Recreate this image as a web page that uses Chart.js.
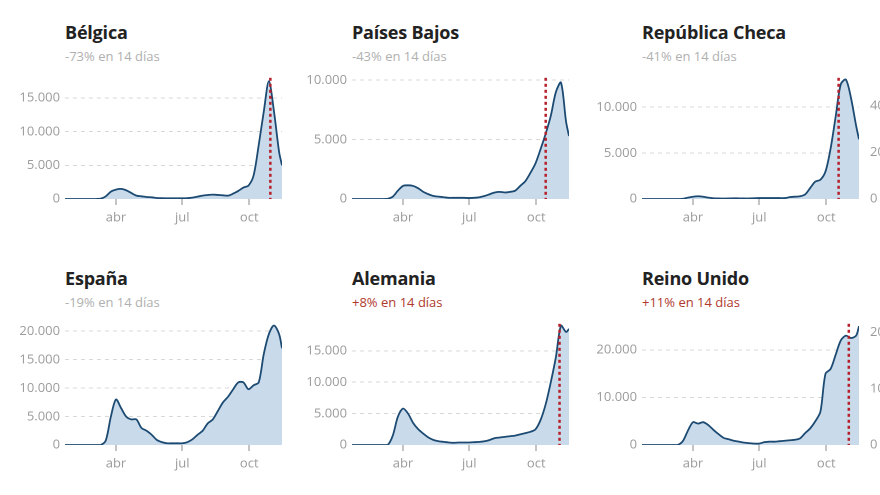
<!DOCTYPE html>
<html><head><meta charset="utf-8">
<script src="https://cdn.jsdelivr.net/npm/chart.js@4/dist/chart.umd.min.js"></script>
<style>
html,body{margin:0;padding:0;background:#fff;width:880px;height:495px;overflow:hidden;position:relative;font-family:"Open Sans",sans-serif}
.t{position:absolute;font-weight:700;font-size:18px;color:#222;white-space:nowrap;letter-spacing:-0.2px}
.s{position:absolute;font-size:13px;color:#b0b0b0;white-space:nowrap}
.s.up{color:#b03a2e}
canvas{position:absolute}
</style></head><body>
<script>
// Day offsets from 22 Jan 2020
const days = [0,7,14,21,28,35,42,49,56,63,70,77,84,91,98,105,112,119,126,133,140,147,154,161,168,175,182,189,196,203,210,217,224,231,238,245,252,259,266,273,280,287,294,298];
const tickDays = [70,161,253];
const tickLabels = ["abr","jul","oct"];
const countries = ["Bélgica","Países Bajos","República Checa","España","Alemania","Reino Unido"];
const changes = ["-73% en 14 días","-43% en 14 días","-41% en 14 días","-19% en 14 días","+8% en 14 días","+11% en 14 días"];
const belgica = [0,0,0,0,0,0,5,50,400,1100,1400,1500,1300,900,500,400,300,250,150,120,100,100,100,100,120,200,350,500,600,650,600,550,500,800,1200,1700,2000,3500,8000,13000,17500,13000,7000,5000];
const paisesBajos = [0,0,0,0,0,0,0,20,200,700,1100,1150,1100,900,600,400,250,200,150,100,100,100,100,80,100,150,250,400,550,600,550,600,700,1100,1500,2200,3000,4200,5500,7000,9000,9800,6500,5300];
const republicaCheca = [0,0,0,0,0,0,0,0,20,150,250,300,250,150,80,60,50,60,80,70,60,60,80,100,100,100,100,100,100,200,250,300,500,1200,1900,2100,3000,5500,9000,12500,13000,11000,8000,6500];
const espana = [0,0,0,0,0,0,0,0,800,5000,8000,6500,5000,4500,4500,3000,2500,1800,900,500,300,300,300,300,500,1000,1800,2500,3800,4500,6000,7500,8500,9800,11000,11000,9800,10500,11000,16000,19500,21000,19500,17000];
const alemania = [0,0,0,0,0,0,0,0,1500,4500,5800,5000,3500,2500,1800,1200,800,600,500,400,350,400,400,400,450,500,600,800,1100,1200,1300,1400,1500,1700,1900,2100,2500,4000,6500,10000,14000,19000,18000,18500];
const reinoUnido = [0,0,0,0,0,0,0,0,800,3000,4800,4500,4800,4200,3200,2300,1500,1200,900,700,500,400,300,300,600,700,700,800,900,1000,1100,1400,2500,3500,5000,7000,15000,16000,19000,22000,23000,22500,23000,25000];
const series = [belgica,paisesBajos,republicaCheca,espana,alemania,reinoUnido];
const yMax = [18000,10200,13200,21300,19300,25500];
const yStep = [5000,5000,5000,5000,5000,10000];
const markerDay = [282,266,270,null,285,284];
// Partial next-column axes cut off at right edge
const partialMax = [52000,21500];
const partialStep = [20000,10000];

const fmt = v => v.toLocaleString('de-DE');
const plotLefts = [65,352,642];
const axisW = 60, plotW = 217;

const markerPlugin = {
  id:'marker',
  afterDatasetsDraw(chart){
    const d = chart.options.plugins.marker.day;
    if(d==null) return;
    const x = chart.scales.x.getPixelForValue(d);
    const {top,bottom} = chart.chartArea;
    const c = chart.ctx; c.save();
    c.strokeStyle='#b5202a'; c.lineWidth=2.5; c.setLineDash([3,3]);
    c.beginPath(); c.moveTo(x,top); c.lineTo(x,bottom); c.stroke(); c.restore();
  }
};

function makeChart(left, top, data, max, step, marker, showX, partial){
  const cv = document.createElement('canvas');
  const w = partial ? 120 : axisW+plotW+3;
  cv.style.left = left+'px'; cv.style.top = top+'px';
  cv.style.width = w+'px'; cv.style.height='170px';
  document.body.appendChild(cv);
  new Chart(cv,{
    type:'line',
    data:{datasets:[{data: data ? days.map((d,i)=>({x:d,y:data[i]})) : [],
      borderColor:'#1c4a72', borderWidth:1.8, backgroundColor:'#c9dbea', fill:'origin', pointRadius:0, tension:0.3}]},
    options:{responsive:false, animation:false, devicePixelRatio:2,
      layout:{padding:{top:3,right:partial?0:3,left:0,bottom:0}},
      plugins:{legend:{display:false},tooltip:{enabled:false},marker:{day:marker}},
      scales:{
        x:{type:'linear', min:0, max:298, display:showX,
          afterBuildTicks(s){ s.ticks = tickDays.map(v=>({value:v})); },
          afterFit(s){ s.height = 36; },
          ticks:{callback:(v)=>tickLabels[tickDays.indexOf(v)], color:'#9a9a9a', font:{family:'Open Sans',size:13}, padding:5, maxRotation:0, autoSkip:false},
          grid:{drawOnChartArea:false, tickLength:6, color:'#888'}, border:{display:false}},
        y:{min:0, max:max,
          afterBuildTicks(s){ const t=[]; for(let v=0; v<=max; v+=step) t.push({value:v}); s.ticks=t; },
          afterFit(s){ s.width = axisW; },
          ticks:{callback:v=>fmt(v), color:'#9a9a9a', font:{family:'Open Sans',size:13}, padding:5, crossAlign: partial?'far':'near'},
          grid:{drawTicks:false, color:c=>c.tick && c.tick.value===0 ? 'rgba(0,0,0,0)' : '#d8d8d8'},
          border:{display:false, dash:[4,4]}}
      }},
    plugins:[markerPlugin]
  });
}

for(let i=0;i<6;i++){
  const col=i%3, row=Math.floor(i/3);
  const pl = plotLefts[col];
  const top = row===0 ? 65 : 311;
  const tt = document.createElement('div'); tt.className='t'; tt.textContent=countries[i];
  tt.style.left=pl+'px'; tt.style.top=(row===0?20:266)+'px'; document.body.appendChild(tt);
  const st = document.createElement('div'); st.className='s'+(changes[i][0]==='+'?' up':''); st.textContent=changes[i];
  st.style.left=pl+'px'; st.style.top=(row===0?47:293)+'px'; document.body.appendChild(st);
  makeChart(pl-axisW, top, series[i], yMax[i], yStep[i], markerDay[i], true, false);
}
makeChart(870, 65, null, partialMax[0], partialStep[0], null, false, true);
makeChart(870, 311, null, partialMax[1], partialStep[1], null, false, true);
</script>
</body></html>
